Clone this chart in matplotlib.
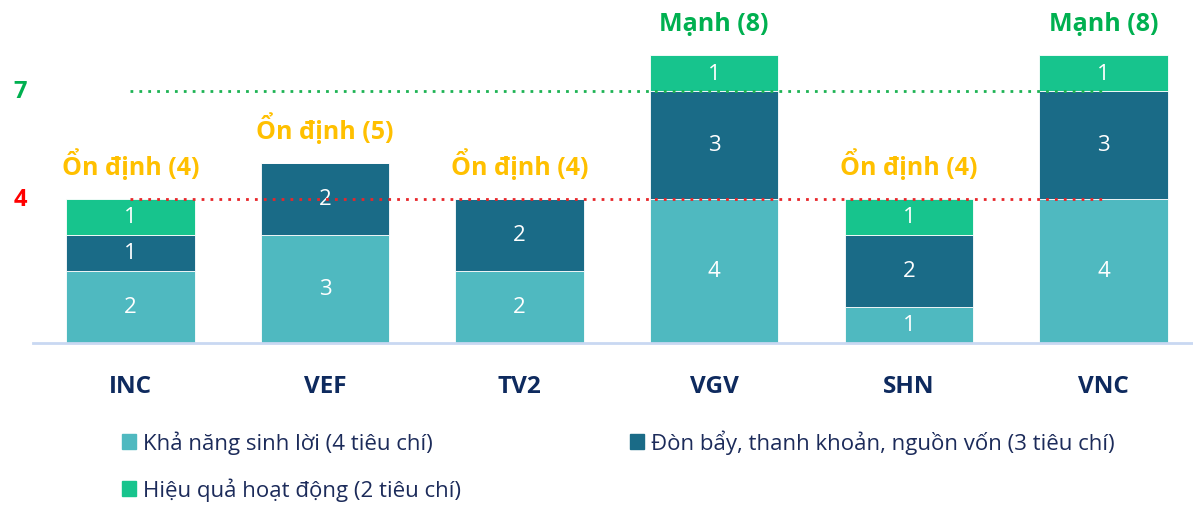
import numpy as np
import matplotlib.pyplot as plt
from matplotlib.patches import Patch

plt.rcParams['font.family'] = ['Open Sans', 'DejaVu Sans']

# Data
companies = ['INC', 'VEF', 'TV2', 'VGV', 'SHN', 'VNC']
profit = [2, 3, 2, 4, 1, 4]       # Khả năng sinh lời
leverage = [1, 2, 2, 3, 2, 3]     # Đòn bẩy, thanh khoản, nguồn vốn
efficiency = [1, 0, 0, 1, 1, 1]   # Hiệu quả hoạt động
ratings = ['Ổn định (4)', 'Ổn định (5)', 'Ổn định (4)', 'Mạnh (8)', 'Ổn định (4)', 'Mạnh (8)']
series_names = ['Khả năng sinh lời (4 tiêu chí)',
                'Đòn bẩy, thanh khoản, nguồn vốn (3 tiêu chí)',
                'Hiệu quả hoạt động (2 tiêu chí)']
thresholds = [4, 7]

c_profit = '#4FB9C0'
c_lev = '#1A6B87'
c_eff = '#17C48D'
navy = '#0E2A5E'
gold = '#FFC000'
green = '#00B050'
red = '#FF0000'

fig = plt.figure(figsize=(11.93, 5.06), dpi=100)
ax = fig.add_axes([33 / 1193, 1 - 344 / 506, 1 - 33 / 1193, 344 / 506])

x = np.arange(len(companies))
w = 0.66
profit = np.array(profit)
leverage = np.array(leverage)
efficiency = np.array(efficiency)

b1 = ax.bar(x, profit, w, color=c_profit, edgecolor='white', linewidth=0.6)
b2 = ax.bar(x, leverage, w, bottom=profit, color=c_lev, edgecolor='white', linewidth=0.6)
b3 = ax.bar(x, efficiency, w, bottom=profit + leverage, color=c_eff, edgecolor='white', linewidth=0.6)

# segment values
for bars, vals, bottoms in [(b1, profit, np.zeros(6)), (b2, leverage, profit),
                            (b3, efficiency, profit + leverage)]:
    for xi, v, b in zip(x, vals, bottoms):
        if v > 0:
            ax.text(xi, b + v / 2, str(v), ha='center', va='center',
                    color='white', fontsize=16)

# threshold lines
ax.plot([0, 5], [thresholds[0]] * 2, color='#E8262A', linestyle=(0, (1, 2.2)), linewidth=2, zorder=5)
ax.plot([0, 5], [thresholds[1]] * 2, color='#1DB354', linestyle=(0, (1, 2.2)), linewidth=2, zorder=5)
ax.text(-0.565, thresholds[1], str(thresholds[1]), color=green, fontsize=17,
        fontweight='bold', ha='center', va='center')
ax.text(-0.565, thresholds[0], str(thresholds[0]), color=red, fontsize=17,
        fontweight='bold', ha='center', va='center')

# rating labels
totals = profit + leverage + efficiency
for xi, t, r in zip(x, totals, ratings):
    col = green if r.startswith('Mạnh') else gold
    ax.annotate(r, (xi, t), xytext=(0, 14), textcoords='offset points',
                ha='center', va='bottom', color=col, fontsize=18, fontweight='bold')

ax.set_xlim(-0.5, 5.46)
ax.set_ylim(0, 344 / 36)
ax.set_yticks([])
ax.set_xticks(x)
ax.set_xticklabels(companies, fontsize=17.5, fontweight='bold', color=navy)
ax.tick_params(axis='x', length=0, pad=22)
for s in ['top', 'right', 'left']:
    ax.spines[s].set_visible(False)
ax.spines['bottom'].set_color('#C9D8F2')
ax.spines['bottom'].set_linewidth(2)

# legend fills column by column, so order items to read row by row
handles = [Patch(color=c_profit), Patch(color=c_eff), Patch(color=c_lev)]
labels = [series_names[0], series_names[2], series_names[1]]
fig.legend(handles, labels, loc='upper left', bbox_to_anchor=(113 / 1193, 1 - 422 / 506),
           ncol=2, frameon=False, fontsize=16, labelcolor='#1C2B5A',
           handlelength=0.65, handleheight=0.65, handletextpad=0.3,
           columnspacing=7.6, labelspacing=1.05, borderaxespad=0)

fig.savefig('out.png', dpi=100)
